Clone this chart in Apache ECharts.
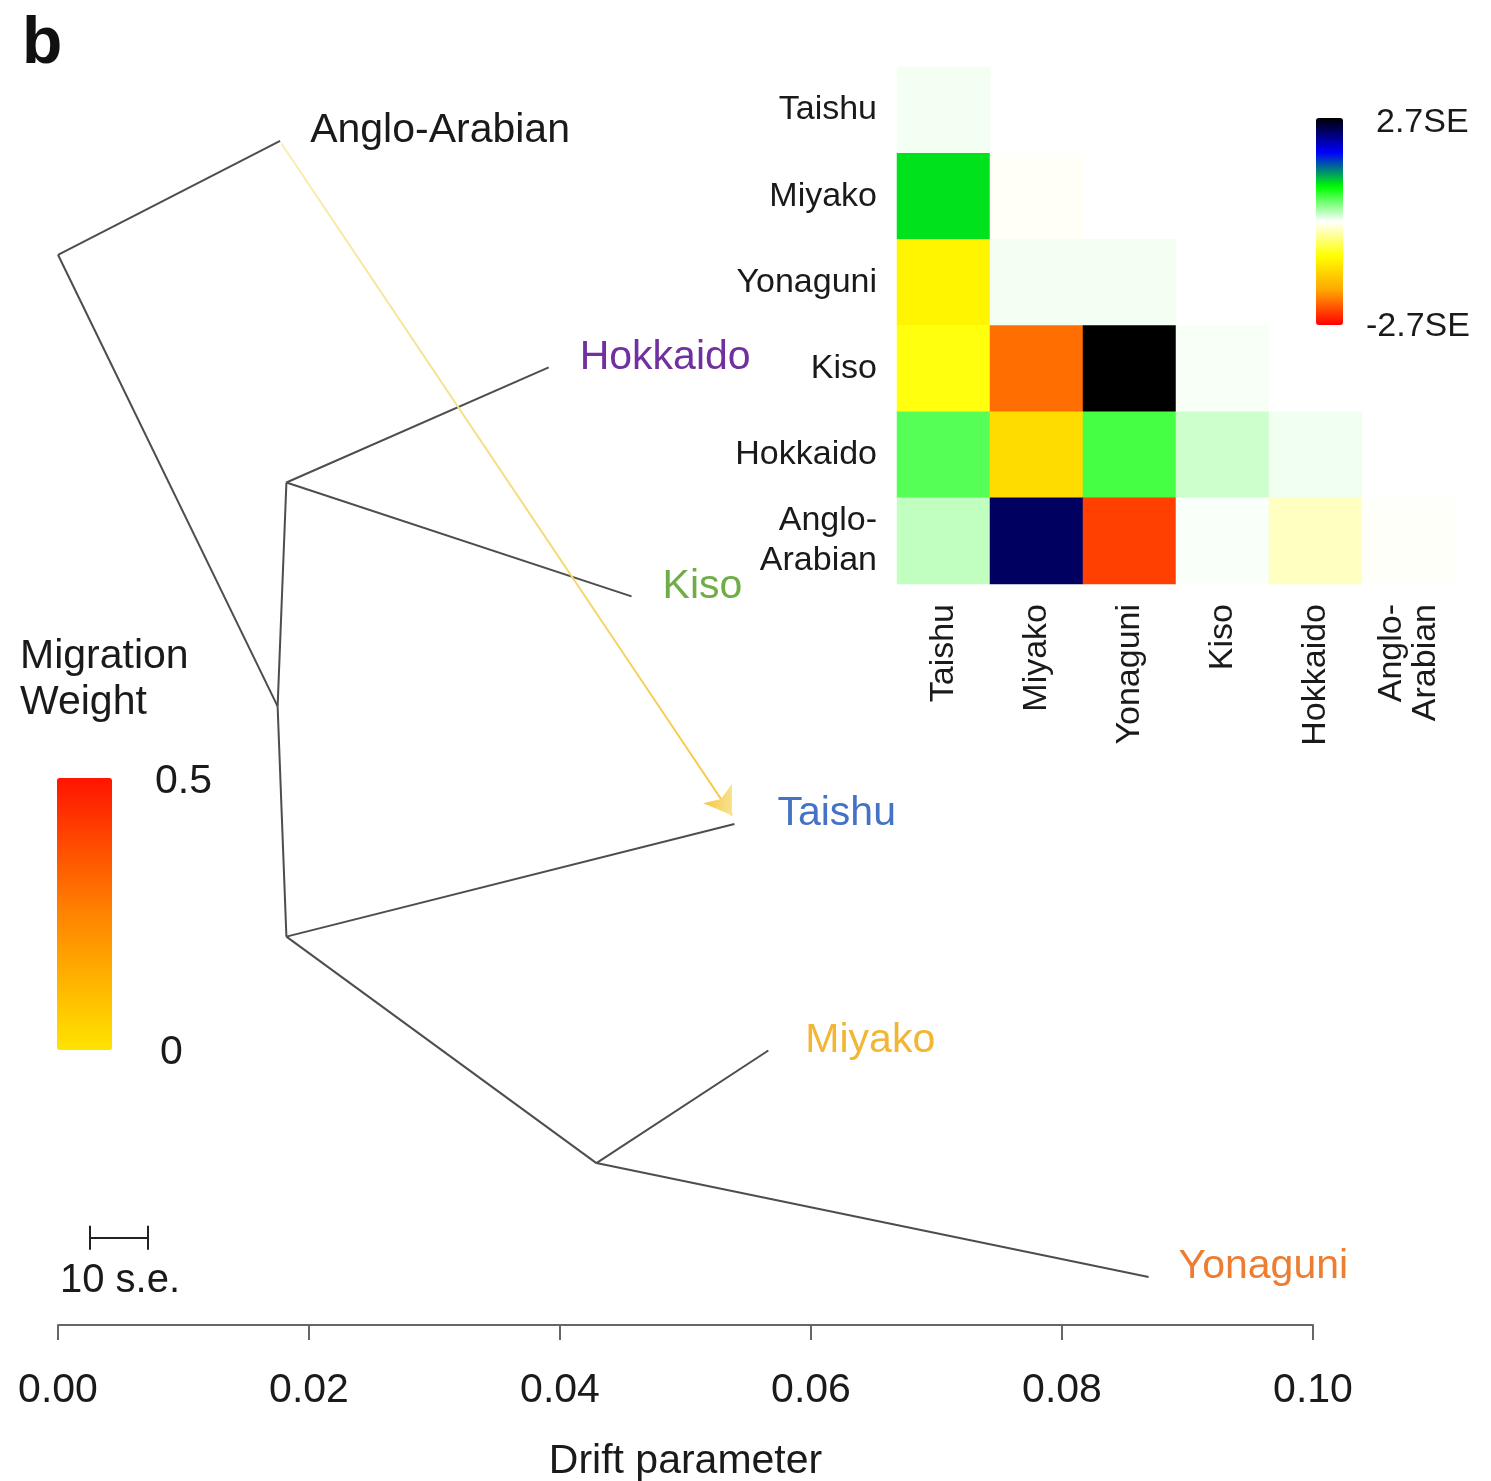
<!DOCTYPE html>
<html>
<head>
<meta charset="utf-8">
<script src="https://cdn.jsdelivr.net/npm/echarts@6/dist/echarts.min.js"></script>
<style>
html, body { margin: 0; padding: 0; background: #fff; }
#main { width: 1491px; height: 1481px; }
</style>
</head>
<body>
<div id="main"></div>
<script>
var myChart = echarts.init(document.getElementById('main'));

// tree nodes: drift parameter (x) and vertical position (0 = top, 1 = drift axis)
var nodeNames = ['root', 'Anglo-Arabian', 'n1', 'n2', 'Hokkaido', 'Kiso', 'n3', 'Taishu', 'n4', 'Miyako', 'Yonaguni'];
var nodeDrift = [0.0, 0.0177, 0.0175, 0.0182, 0.0391, 0.0457, 0.0182, 0.0539, 0.0429, 0.0566, 0.0869];
var nodeY     = [0.154, 0.064, 0.511, 0.334, 0.243, 0.424, 0.693, 0.604, 0.872, 0.783, 0.962];
var edges = [
    ['root', 'Anglo-Arabian'], ['root', 'n1'],
    ['n1', 'n2'], ['n1', 'n3'],
    ['n2', 'Hokkaido'], ['n2', 'Kiso'],
    ['n3', 'Taishu'], ['n3', 'n4'],
    ['n4', 'Miyako'], ['n4', 'Yonaguni']
];
var tipNames  = ['Anglo-Arabian', 'Hokkaido', 'Kiso', 'Taishu', 'Miyako', 'Yonaguni'];
var tipColors = ['#1a1a1a', '#7030a0', '#70ad47', '#4472c4', '#f2b632', '#ed7d31'];
var tipGap    = [30, 31, 31, 43, 37, 30];

// migration edge (Anglo-Arabian -> Taishu)
var migFrom = [0.0178, 0.066];
var migTo   = [0.0537, 0.597];

// 10 s.e. scale bar, in drift units
var seBar = [0.00255, 0.00717];
var seBarY = 0.931;

// residual matrix (lower triangle, in SE units)
var residNames = ['Taishu', 'Miyako', 'Yonaguni', 'Kiso', 'Hokkaido', 'Anglo-\nArabian'];
var resid = [
    [0.04],
    [1.0, -0.03],
    [-1.0, 0.04, 0.04],
    [-0.85, -2.1, 2.7, 0.03],
    [0.6, -1.25, 0.66, 0.18, 0.05],
    [0.22, 2.36, -2.35, 0.02, -0.22, -0.02]
];
var residMax = 2.7;
var weightMax = 0.5;

var font = 'Liberation Sans, Arial, sans-serif';

function idx(n) { return nodeNames.indexOf(n); }
function pos(n) { var i = idx(n); return [nodeDrift[i], nodeY[i]]; }

var treeData = edges.map(function (e) {
    return { coords: [pos(e[0]), pos(e[1])] };
});

var tipData = tipNames.map(function (n, i) {
    return {
        name: n,
        value: pos(n),
        label: { color: tipColors[i], distance: tipGap[i] }
    };
});

var heatData = [];
for (var r = 0; r < resid.length; r++) {
    for (var c = 0; c < resid[r].length; c++) {
        heatData.push([c, r, resid[r][c]]);
    }
}

var tickH = 0.0095;
var scaleData = [
    { coords: [[seBar[0], seBarY], [seBar[1], seBarY]] },
    { coords: [[seBar[0], seBarY - tickH], [seBar[0], seBarY + tickH]] },
    { coords: [[seBar[1], seBarY - tickH], [seBar[1], seBarY + tickH]] }
];

var option = {
    backgroundColor: '#fff',
    textStyle: { fontFamily: font },
    animation: false,
    grid: [
        { left: 58, right: 178, top: 60, bottom: 156, outerBoundsMode: 'none', containLabel: false },
        { left: 897, top: 67, width: 558, height: 517, outerBoundsMode: 'none', containLabel: false }
    ],
    xAxis: [
        {
            type: 'value', gridIndex: 0, min: 0, max: 0.1, interval: 0.02,
            position: 'bottom',
            splitLine: { show: false },
            axisLine: { onZero: false, lineStyle: { color: '#666', width: 2 } },
            axisTick: { length: 15, lineStyle: { color: '#666', width: 2 } },
            axisLabel: {
                fontSize: 41, color: '#1a1a1a', margin: 45,
                formatter: function (v) { return v.toFixed(2); }
            },
            name: 'Drift parameter', nameLocation: 'middle', nameGap: 116,
            nameTextStyle: { fontSize: 41, color: '#1a1a1a' }
        },
        {
            type: 'category', gridIndex: 1, data: residNames,
            axisLine: { show: false }, axisTick: { show: false },
            splitLine: { show: false },
            axisLabel: { rotate: 90, fontSize: 34, color: '#1a1a1a', margin: 20, lineHeight: 34 }
        }
    ],
    yAxis: [
        { type: 'value', gridIndex: 0, min: 0, max: 1, inverse: true, show: false },
        {
            type: 'category', gridIndex: 1, data: residNames, inverse: true,
            axisLine: { show: false }, axisTick: { show: false },
            splitLine: { show: false },
            axisLabel: { fontSize: 34, color: '#1a1a1a', margin: 20, lineHeight: 40 }
        }
    ],
    visualMap: [
        {
            type: 'continuous', seriesIndex: 3,
            min: -residMax, max: residMax,
            left: 1316, top: 118, itemWidth: 27, itemHeight: 207,
            padding: 0, calculable: false, text: null, showLabel: false,
            hoverLink: false,
            inRange: { color: ['#ff0000', '#ffa500', '#ffff00', '#ffffff', '#00ff00', '#0000ff', '#000000'] }
        },
        {
            type: 'continuous', seriesIndex: [],
            min: 0, max: weightMax,
            left: 57, top: 778, itemWidth: 55, itemHeight: 272,
            padding: 0, calculable: false, text: null, showLabel: false,
            hoverLink: false,
            inRange: { color: ['#ffe400', '#ff8400', '#ff1400'] }
        }
    ],
    graphic: [
        { type: 'text', left: 22, top: 12, style: { text: 'b', font: 'bold 66px ' + font, fill: '#111' } },
        { type: 'text', left: 20, top: 634, style: { text: 'Migration\nWeight', font: '41px ' + font, lineHeight: 46, fill: '#1a1a1a' } },
        { type: 'text', left: 155, top: 761, style: { text: '0.5', font: '41px ' + font, fill: '#1a1a1a' } },
        { type: 'text', left: 160, top: 1032, style: { text: '0', font: '41px ' + font, fill: '#1a1a1a' } },
        { type: 'text', left: 1376, top: 106, style: { text: '2.7SE', font: '34px ' + font, fill: '#1a1a1a' } },
        { type: 'text', left: 1366, top: 310, style: { text: '-2.7SE', font: '34px ' + font, fill: '#1a1a1a' } },
        { type: 'text', left: 60, top: 1261, style: { text: '10 s.e.', font: '40px ' + font, fill: '#1a1a1a' } }
    ],
    series: [
        {
            name: 'tree', type: 'lines', coordinateSystem: 'cartesian2d',
            xAxisIndex: 0, yAxisIndex: 0, silent: true,
            lineStyle: { color: '#4d4d4d', width: 2, opacity: 1 },
            data: treeData
        },
        {
            name: 'migration', type: 'lines', coordinateSystem: 'cartesian2d',
            xAxisIndex: 0, yAxisIndex: 0, silent: true,
            symbol: ['none', 'arrow'], symbolSize: 26,
            lineStyle: {
                width: 2, opacity: 1,
                color: {
                    type: 'linear', x: 0, y: 0, x2: 1, y2: 1,
                    colorStops: [{ offset: 0, color: '#f6eeb4' }, { offset: 0.6, color: '#f7d870' }, { offset: 1, color: '#f7c640' }]
                }
            },
            data: [{ coords: [migFrom, migTo] }]
        },
        {
            name: 'tips', type: 'scatter', xAxisIndex: 0, yAxisIndex: 0,
            symbolSize: 0, itemStyle: { color: '#fff', opacity: 1 }, silent: true,
            label: {
                show: true, position: 'right', offset: [0, -10],
                fontSize: 41, opacity: 1, formatter: '{b}'
            },
            data: tipData
        },
        {
            name: 'residuals', type: 'heatmap', xAxisIndex: 1, yAxisIndex: 1,
            itemStyle: { borderWidth: 0 },
            data: heatData
        },
        {
            name: 'scale', type: 'lines', coordinateSystem: 'cartesian2d',
            xAxisIndex: 0, yAxisIndex: 0, silent: true,
            lineStyle: { color: '#222', width: 2, opacity: 1 },
            data: scaleData
        }
    ]
};

myChart.setOption(option);
</script>
</body>
</html>
